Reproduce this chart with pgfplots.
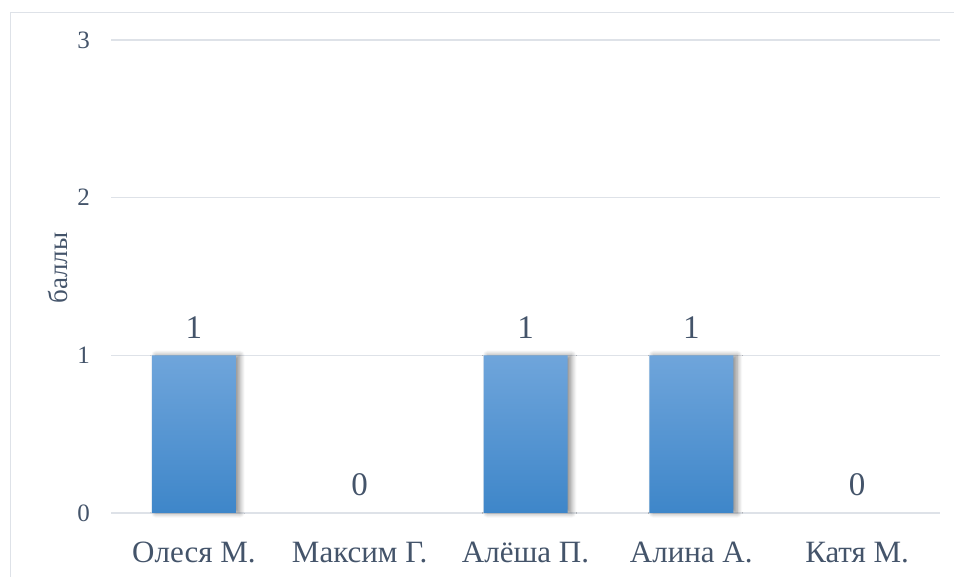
\documentclass[border=0pt]{standalone}
\usepackage{fontspec}
\setmainfont{Liberation Serif}
\usepackage{pgfplots}
\pgfplotsset{compat=1.18}
\usetikzlibrary{shadows.blur}

\definecolor{txt}{HTML}{44546A}
\definecolor{gridc}{HTML}{DEE2E8}
\definecolor{bartop}{HTML}{6FA5DB}
\definecolor{barbot}{HTML}{3E86C9}

\begin{document}
\begin{tikzpicture}
\useasboundingbox (0,0) rectangle (954pt,577pt);
% chart frame
\draw[gridc, line width=1pt] (10.5pt,-5pt) -- (10.5pt,564.5pt) -- (960pt,564.5pt);
\begin{axis}[
  at={(111pt,64pt)}, anchor=south west,
  scale only axis, width=829pt, height=473pt,
  xmin=-0.5, xmax=4.5, ymin=0, ymax=3,
  axis line style={draw=none},
  major tick length=0pt,
  ytick={0,1,2,3},
  ymajorgrids,
  major grid style={gridc, line width=1.3pt},
  xtick={0,1,2,3,4},
  xticklabels={Олеся М., Максим Г., Алёша П., Алина А., Катя М.},
  /pgf/number format/assume math mode=true,
  yticklabel style={font=\fontsize{25}{25}\selectfont, text=txt, anchor=east, inner sep=0pt, xshift=-21pt},
  xticklabel style={font=\fontsize{31}{31}\selectfont, text=txt, anchor=base, inner sep=0pt, yshift=-50pt},
  ylabel={баллы},
  ylabel style={font=\fontsize{27}{27}\selectfont, text=txt, at={(axis description cs:-0.064,0.518)}, anchor=center},
  ybar, bar width=84pt, bar shift=0pt,
  clip=false,
]
% bars with a non-zero score
\addplot[draw=none, top color=bartop, bottom color=barbot,
  blur shadow={shadow xshift=4pt, shadow yshift=0pt, shadow blur radius=5pt, shadow blur steps=8, shadow opacity=45}]
  coordinates {(0,1) (2,1) (3,1)};
% score labels for every pupil
\addplot[draw=none, fill=none, nodes near coords,
  every node near coord/.append style={font=\fontsize{33}{33}\selectfont, text=txt, anchor=base, inner sep=0pt, yshift=17pt}]
  coordinates {(0,1) (1,0) (2,1) (3,1) (4,0)};
\end{axis}
\end{tikzpicture}
\end{document}
